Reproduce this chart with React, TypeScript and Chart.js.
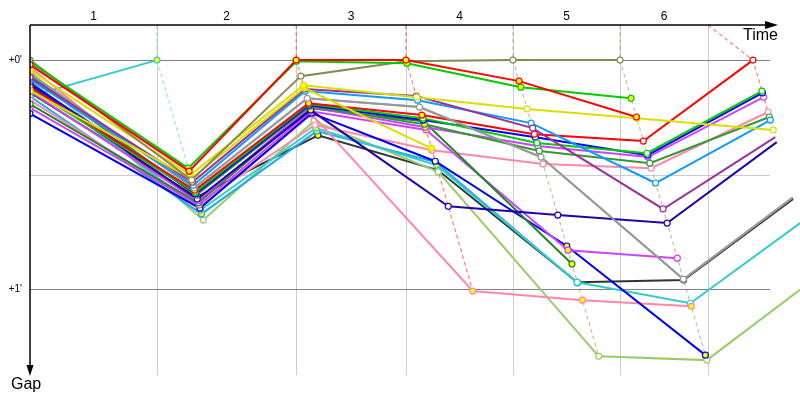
import React, { useEffect, useRef } from "react";
import { Chart, registerables } from "chart.js";

Chart.register(...registerables);

// ---- axis data ----
const lapLabels = ["1", "2", "3", "4", "5", "6"];
// lap boundary times (s); first value is the start of the visible window
const gridTimes = [0, 115, 241, 340.4, 437.3, 534.2, 613.9];
// race time at which the leader completed each lap (index 0 = window start)
const leaderTimes = [0, 115, 241, 340.4, 437.3, 534.2, 654.6];
const gapTicks = [0, 30, 60];
const gapTickLabels = ["+0'", "", "+1'"];
const X_MIN = 0;
const X_MAX = 670;
const Y_MIN = -9.2;
const Y_MAX = 82.5;

// ---- gaps to leader (s) per lap, per driver ----
const redA = [1.2, 29.1, 0, 0, 5.5, 14.9, null];
const greenA = [0.5, 28.3, 0.3, 0.8, 7.1, 10.0, null];
const olive = [0, 31.4, 4.2, 0.3, 0, 0, null];
const yellowA = [2.6, 30.1, 6.6, 9.7, 12.8, 15.2, 18.3];
const yellowB = [8.0, 31.0, 7.3, 23.1, null, null, null];
const purple = [4.5, 32.0, 7.6, 9.4, 17.8, 39.0, 20.2];
const skyA = [5.0, 32.8, 8.1, 10.5, 16.5, 32.2, 15.7];
const grey = [3.5, 33.5, 10.0, 12.3, 25.4, 57.4, 36.0];
const redB = [7.0, 34.1, 11.3, 14.4, 19.4, 21.2, 0];
const greenB = [7.5, 34.6, 11.5, 15.2, 21.7, 24.4, 8.1];
const blueA = [6.0, 35.0, 11.8, 15.7, 20.2, 24.9, 8.6];
const forestA = [4.0, 35.4, 12.1, 16.8, 23.8, 27.0, 14.9];
const black = [8.5, 35.9, 19.7, 28.8, 58.2, 57.6, 36.4];
const navy = [6.5, 36.4, 13.1, 38.3, 40.6, 42.7, 21.5];
const violetA = [8.2, 36.9, 12.3, 17.6, 22.5, 25.4, 9.7];
const forestB = [11.5, 37.4, 12.6, 16.0, 53.4, null, null];
const violetB = [12.5, 38.0, 13.4, 18.3, 49.8, 51.9, null];
const blueB = [14.0, 38.8, 13.9, 26.5, 48.7, 77.3, null];
const pinkA = [1.8, 37.7, 17.0, 23.6, 27.2, 28.3, 13.6];
const pinkB = [10.5, 38.5, 14.2, 60.5, 62.9, 64.5, null];
const cyan = [5.5, 39.3, 17.8, 27.5, 58.2, 63.7, 42.7];
const skyB = [9.5, 40.3, 18.6, 26.7, 58.4, null, null];
const lime = [3.0, 41.9, 16.0, 29.3, 77.6, 78.6, 57.0];
const teal = [9.5, 0, null, null, null, null, null];

// marks: y = highlighted (yellow) marker, w = normal marker
const series = [
  { name: "Red A", color: "#ff0000", gaps: redA, marks: "wyyyyy-" },
  { name: "Green A", color: "#00cc00", gaps: greenA, marks: "wyyyyy-" },
  { name: "Olive", color: "#888850", gaps: olive, marks: "wwwwww-" },
  { name: "Yellow A", color: "#dddd00", gaps: yellowA, marks: "yyywwww" },
  { name: "Yellow B", color: "#dddd00", gaps: yellowB, marks: "wyyy---" },
  { name: "Purple", color: "#993399", gaps: purple, marks: "wyyywww" },
  { name: "Sky A", color: "#1199ff", gaps: skyA, marks: "wwwwwww" },
  { name: "Grey", color: "#999999", gaps: grey, marks: "wwwwwww" },
  { name: "Red B", color: "#ff0000", gaps: redB, marks: "wyyywww" },
  { name: "Green B", color: "#00cc00", gaps: greenB, marks: "wwwwwww" },
  { name: "Blue A", color: "#0000ff", gaps: blueA, marks: "wyyywww" },
  { name: "Forest A", color: "#339933", gaps: forestA, marks: "wwyywww" },
  { name: "Navy", color: "#2200aa", gaps: navy, marks: "wwywwww" },
  { name: "Violet A", color: "#cc44ff", gaps: violetA, marks: "wwwywww" },
  { name: "Forest B", color: "#228822", gaps: forestB, marks: "wwwyy--" },
  { name: "Violet B", color: "#cc44ff", gaps: violetB, marks: "wywyyw-" },
  { name: "Blue B", color: "#0000ee", gaps: blueB, marks: "wwwwyy-" },
  { name: "Pink A", color: "#ff88aa", gaps: pinkA, marks: "wwwwwww" },
  { name: "Pink B", color: "#ff88aa", gaps: pinkB, marks: "wywyyy-" },
  { name: "Cyan", color: "#33cccc", gaps: cyan, marks: "wyyywww" },
  { name: "Sky B", color: "#22aaee", gaps: skyB, marks: "wyyyy--" },
  { name: "Lime", color: "#99cc66", gaps: lime, marks: "wwwwwww" },
  { name: "Grey 2", color: "#999999", gaps: grey, marks: "-------" },
  { name: "Black", color: "#333333", gaps: black, marks: "wyywwww" },
  { name: "Teal", color: "#33cccc", gaps: teal, marks: "wy-----" },
];

function fade(hex: string, a: number) {
  const r = parseInt(hex.slice(1, 3), 16);
  const g = parseInt(hex.slice(3, 5), 16);
  const b = parseInt(hex.slice(5, 7), 16);
  return `rgba(${r},${g},${b},${a})`;
}

function timeOf(lap: number, gap: number) {
  return lap === 0 ? leaderTimes[0] : leaderTimes[lap] + gap;
}

const FONT = "'Liberation Sans', Arial, sans-serif";

const decor = {
  id: "decor",
  beforeDatasetsDraw(chart: any) {
    const { ctx, chartArea: ca, scales } = chart;
    const xs = scales.x;
    const ys = scales.y;
    ctx.save();
    ctx.lineWidth = 1;
    ctx.strokeStyle = "#cccccc";
    for (let i = 1; i < gridTimes.length; i++) {
      const px = Math.round(xs.getPixelForValue(gridTimes[i])) + 0.5;
      ctx.beginPath();
      ctx.moveTo(px, ca.top);
      ctx.lineTo(px, ca.bottom);
      ctx.stroke();
    }
    gapTicks.forEach((v, i) => {
      const py = Math.round(ys.getPixelForValue(v)) + 0.5;
      ctx.strokeStyle = gapTickLabels[i] ? "#808080" : "#cccccc";
      ctx.beginPath();
      ctx.moveTo(ca.left, py);
      ctx.lineTo(ca.right, py);
      ctx.stroke();
    });
    ctx.restore();
  },
  afterDatasetsDraw(chart: any) {
    const { ctx, chartArea: ca, scales } = chart;
    const xs = scales.x;
    const ys = scales.y;
    ctx.save();
    ctx.strokeStyle = "#000";
    ctx.fillStyle = "#000";
    ctx.lineWidth = 1.5;
    // x axis (top) with arrow
    const xEnd = ca.right + 8;
    ctx.beginPath();
    ctx.moveTo(ca.left, ca.top);
    ctx.lineTo(xEnd - 6, ca.top);
    ctx.stroke();
    ctx.beginPath();
    ctx.moveTo(xEnd, ca.top);
    ctx.lineTo(xEnd - 13, ca.top - 4);
    ctx.lineTo(xEnd - 13, ca.top + 4);
    ctx.closePath();
    ctx.fill();
    // y axis (left, pointing down) with arrow
    const yEnd = ca.bottom + 1;
    ctx.beginPath();
    ctx.moveTo(ca.left, ca.top);
    ctx.lineTo(ca.left, yEnd - 5);
    ctx.stroke();
    ctx.beginPath();
    ctx.moveTo(ca.left, yEnd);
    ctx.lineTo(ca.left - 3.5, yEnd - 11);
    ctx.lineTo(ca.left + 3.5, yEnd - 11);
    ctx.closePath();
    ctx.fill();
    // lap labels
    ctx.font = `12px ${FONT}`;
    ctx.textAlign = "center";
    ctx.textBaseline = "middle";
    for (let i = 0; i < lapLabels.length; i++) {
      const mid = (gridTimes[i] + gridTimes[i + 1]) / 2;
      ctx.fillText(lapLabels[i], xs.getPixelForValue(mid), ca.top - 8);
    }
    // gap labels
    ctx.font = `10px ${FONT}`;
    ctx.textAlign = "right";
    gapTicks.forEach((v, i) => {
      if (gapTickLabels[i]) ctx.fillText(gapTickLabels[i], ca.left - 8, ys.getPixelForValue(v));
    });
    // axis titles
    ctx.font = `16px ${FONT}`;
    ctx.textAlign = "right";
    ctx.fillText("Time", xEnd, ca.top + 11);
    ctx.textAlign = "left";
    ctx.fillText("Gap", ca.left - 19, ca.bottom + 10);
    ctx.restore();
  },
};

function buildDatasets() {
  const clip = { left: 0, top: 40, right: 40, bottom: 40 };
  const driverSets: any[] = series.map((s) => {
    const data: any[] = [];
    const fills: string[] = [];
    const radii: number[] = [];
    s.gaps.forEach((g, lap) => {
      if (g === null || g === undefined) return;
      data.push({ x: timeOf(lap, g), y: g });
      const m = s.marks[lap];
      fills.push(m === "y" ? "#ffff00" : "#ffffff");
      radii.push(m === "-" ? 0 : 3);
    });
    return {
      label: s.name,
      data,
      borderColor: s.color,
      borderWidth: 2,
      pointRadius: radii,
      pointBorderWidth: 1.2,
      pointBorderColor: s.color,
      pointBackgroundColor: fills,
      tension: 0,
      clip,
      order: 0,
    };
  });
  const lapSets: any[] = [];
  for (let lap = 1; lap < leaderTimes.length; lap++) {
    const pts: { x: number; y: number; c: string }[] = [];
    series.forEach((s) => {
      const g = s.gaps[lap];
      if (g === null || g === undefined) return;
      pts.push({ x: timeOf(lap, g), y: g, c: s.color });
    });
    pts.sort((a, b) => a.y - b.y);
    const leadColor = pts[0].c;
    lapSets.push({
      label: "Lap " + lap,
      data: [{ x: gridTimes[lap], y: Y_MIN }, ...pts.map((p) => ({ x: p.x, y: p.y }))],
      borderColor: fade(leadColor, 0.5),
      borderWidth: 1.2,
      borderDash: [4, 3],
      pointRadius: 0,
      tension: 0,
      clip,
      order: 1,
    });
  }
  return [...driverSets, ...lapSets];
}

export default function App() {
  const ref = useRef<HTMLCanvasElement>(null);
  useEffect(() => {
    document.body.style.margin = "0";
    const chart = new Chart(ref.current as HTMLCanvasElement, {
      type: "line",
      data: { datasets: buildDatasets() },
      options: {
        animation: false,
        responsive: false,
        events: [],
        layout: { padding: { left: 30, top: 25, right: 30, bottom: 25 } },
        plugins: { legend: { display: false }, tooltip: { enabled: false } },
        scales: {
          x: { type: "linear", display: false, min: X_MIN, max: X_MAX },
          y: { type: "linear", display: false, min: Y_MIN, max: Y_MAX, reverse: true },
        },
      },
      plugins: [decor],
    } as any);
    return () => chart.destroy();
  }, []);
  return (
    <div style={{ width: 800, height: 400 }}>
      <canvas ref={ref} width={800} height={400} style={{ display: "block" }} />
    </div>
  );
}
